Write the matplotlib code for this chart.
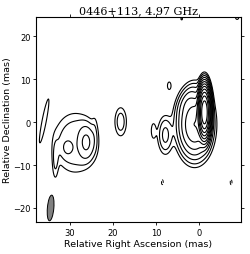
import numpy as np
import matplotlib
matplotlib.use("Agg")
import matplotlib.pyplot as plt
from matplotlib.patches import Ellipse

# source components: x, y (mas), amplitude (x lowest level), sigma_x, sigma_y, angle (deg), shape power
comp_x = [-1.3, 1.0, 2.8, 7.8, 10.6, 6.9, 18.2, 26.2, 30.5, 28.8, 33.4, 36.0, 24.2, 4.0, -8.9, 8.5, -7.5]
comp_y = [2.3, -0.5, 5.0, -3.0, -2.0, 8.5, 0.1, -4.7, -5.9, -4.8, -9.0, 0.3, -2.0, 24.1, 24.4, -14.0, -14.0]
comp_amp = [4000, 64, 5, 5, 1.5, 1.5, 3.0, 7.5, 3.0, 2.6, 2.2, 1.8, 1.0, 1.2, 1.3, -1.4, -1.4]
comp_sx = [0.55, 1.8, 0.9, 1.0, 0.5, 0.45, 0.9, 1.15, 0.9, 4.2, 0.5, 0.45, 0.5, 0.3, 0.5, 0.25, 0.25]
comp_sy = [2.3, 3.5, 2.0, 2.5, 1.7, 0.95, 2.2, 2.3, 1.26, 5.8, 3.0, 4.8, 3.0, 0.4, 0.6, 0.7, 0.7]
comp_ang = [0, 0, -25, 0, 0, 0, 0, 0, 0, 0, 0, -11, 0, 0, 0, 0, 0]
comp_pow = [1, 1, 1, 1, 1, 1, 1, 1, 1, 2, 1, 1, 1, 1, 1, 1, 1]

levels = [2 ** k for k in range(13)]
neg_levels = [-1]

beam_x, beam_y = 34.5, -20.0
beam_w, beam_h, beam_ang = 1.5, 6.0, 5

ra = np.linspace(39, -11, 500)
dec = np.linspace(-25, 27, 520)
X, Y = np.meshgrid(ra, dec)
Z = np.zeros_like(X)
for x0, y0, a, sx, sy, ang, p in zip(comp_x, comp_y, comp_amp, comp_sx, comp_sy, comp_ang, comp_pow):
    t = np.deg2rad(ang)
    dx = (X - x0) * np.cos(t) - (Y - y0) * np.sin(t)
    dy = (X - x0) * np.sin(t) + (Y - y0) * np.cos(t)
    r2 = (dx / sx) ** 2 + (dy / sy) ** 2
    Z += a * np.exp(-0.5 * r2 ** p)

fig = plt.figure(figsize=(2.5, 2.55), dpi=100)
ax = fig.add_axes([0.144, 0.125, 0.82, 0.804])
ax.contour(X, Y, Z, levels=levels, colors="black", linewidths=0.8)
ax.contour(X, Y, Z, levels=neg_levels, colors="black", linewidths=0.7, linestyles="dashed")
ax.add_patch(Ellipse((beam_x, beam_y), beam_w, beam_h, angle=beam_ang,
                     facecolor="gray", edgecolor="black", linewidth=0.7))

ax.set_xlim(37.9, -9.8)
ax.set_ylim(-23.3, 24.5)
ax.set_xticks([30, 20, 10, 0])
ax.set_yticks([20, 10, 0, -10, -20])
ax.tick_params(labelsize=6, length=2.5, width=0.6, top=True, right=True, pad=1.5)
ax.set_xlabel("Relative Right Ascension (mas)", fontsize=6.8, labelpad=2)
ax.set_ylabel("Relative Declination (mas)", fontsize=6.8, labelpad=1)
ax.set_title("0446+113, 4.97 GHz", fontsize=8, family="DejaVu Serif", pad=3)
for s in ax.spines.values():
    s.set_linewidth(0.8)

fig.savefig("out.png", dpi=100)
